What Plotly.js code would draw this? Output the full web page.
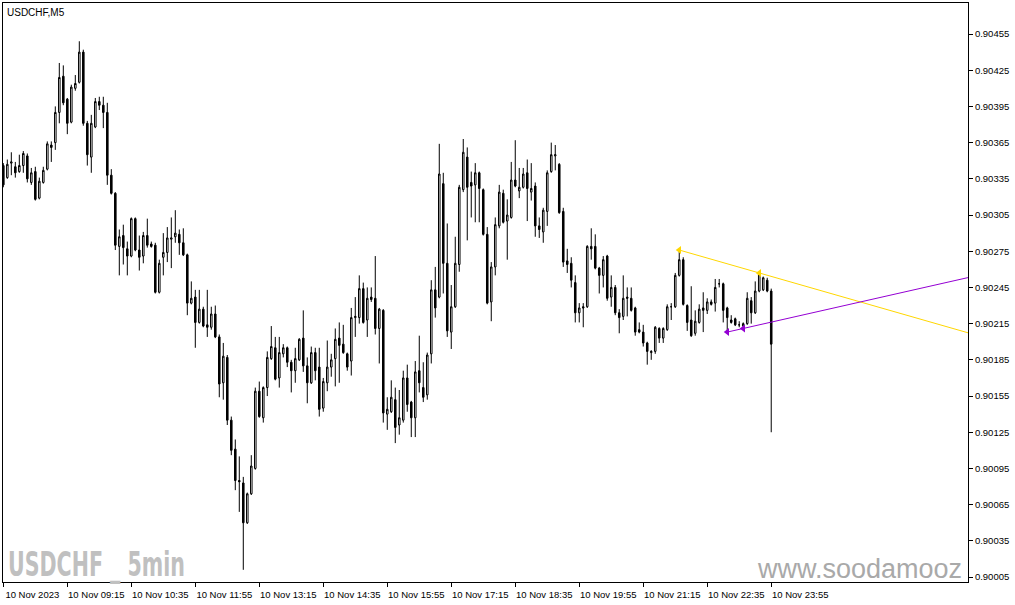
<!DOCTYPE html>
<html>
<head>
<meta charset="utf-8">
<script src="https://cdn.plot.ly/plotly-3.0.1.min.js"></script>
<style>html,body{margin:0;padding:0;background:#fff;}#chart{width:1015px;height:605px;}</style>
</head>
<body>
<div id="chart"></div>
<script>
// ---- data (USDCHF, M5, 10 Nov 2023 07:55 .. 23:55) ----
const open = [0.90346,0.90336,0.90348,0.90345,0.90341,0.90346,0.90354,0.90332,0.90341,0.90319,
0.90332,0.90343,0.90363,0.90365,0.90390,0.90420,0.90401,0.90382,0.90410,0.90415,
0.90440,0.90381,0.90353,0.90378,0.90399,0.90396,0.90390,0.90338,0.90323,0.90279,
0.90288,0.90277,0.90271,0.90302,0.90276,0.90271,0.90288,0.90281,0.90280,0.90241,
0.90270,0.90274,0.90285,0.90287,0.90289,0.90282,0.90272,0.90232,0.90237,0.90216,
0.90227,0.90214,0.90212,0.90223,0.90204,0.90166,0.90187,0.90135,0.90111,0.90085,
0.90083,0.90050,0.90074,0.90095,0.90159,0.90137,0.90162,0.90186,0.90195,0.90170,
0.90190,0.90195,0.90183,0.90176,0.90185,0.90203,0.90180,0.90166,0.90191,0.90179,
0.90145,0.90166,0.90179,0.90186,0.90203,0.90198,0.90190,0.90184,0.90220,0.90220,
0.90244,0.90218,0.90237,0.90236,0.90211,0.90226,0.90140,0.90142,0.90152,0.90131,
0.90135,0.90170,0.90150,0.90137,0.90176,0.90162,0.90156,0.90190,0.90243,0.90237,
0.90331,0.90265,0.90208,0.90229,0.90264,0.90326,0.90353,0.90332,0.90330,0.90340,
0.90326,0.90289,0.90233,0.90262,0.90296,0.90323,0.90300,0.90303,0.90334,0.90325,
0.90328,0.90340,0.90324,0.90329,0.90296,0.90291,0.90308,0.90341,0.90354,0.90347,
0.90308,0.90267,0.90265,0.90249,0.90224,0.90229,0.90229,0.90279,0.90279,0.90261,
0.90255,0.90271,0.90237,0.90245,0.90224,0.90221,0.90237,0.90236,0.90228,0.90210,
0.90208,0.90199,0.90191,0.90192,0.90211,0.90203,0.90210,0.90229,0.90229,0.90255,
0.90268,0.90230,0.90218,0.90207,0.90216,0.90228,0.90226,0.90233,0.90232,0.90248,
0.90248,0.90228,0.90218,0.90219,0.90214,0.90213,0.90215,0.90234,0.90224,0.90242,
0.90243,0.90251,0.90242];
const high = [0.90348,0.90351,0.90357,0.90349,0.90355,0.90358,0.90356,0.90344,0.90345,0.90336,
0.90345,0.90366,0.90366,0.90395,0.90431,0.90429,0.90402,0.90413,0.90421,0.90449,
0.90442,0.90383,0.90388,0.90402,0.90403,0.90403,0.90398,0.90343,0.90324,0.90293,
0.90297,0.90283,0.90303,0.90303,0.90288,0.90291,0.90302,0.90283,0.90282,0.90268,
0.90290,0.90295,0.90303,0.90309,0.90293,0.90294,0.90273,0.90250,0.90243,0.90243,
0.90229,0.90243,0.90229,0.90230,0.90206,0.90199,0.90189,0.90138,0.90119,0.90105,
0.90088,0.90075,0.90106,0.90162,0.90167,0.90163,0.90192,0.90213,0.90204,0.90204,
0.90198,0.90196,0.90185,0.90195,0.90203,0.90226,0.90187,0.90196,0.90195,0.90195,
0.90170,0.90201,0.90190,0.90211,0.90216,0.90214,0.90191,0.90228,0.90237,0.90255,
0.90249,0.90245,0.90245,0.90271,0.90228,0.90227,0.90154,0.90168,0.90162,0.90160,
0.90176,0.90181,0.90151,0.90184,0.90205,0.90183,0.90191,0.90251,0.90262,0.90364,
0.90340,0.90298,0.90247,0.90287,0.90330,0.90368,0.90361,0.90341,0.90348,0.90341,
0.90327,0.90295,0.90266,0.90303,0.90330,0.90326,0.90318,0.90349,0.90367,0.90344,
0.90344,0.90351,0.90348,0.90332,0.90303,0.90311,0.90342,0.90365,0.90363,0.90348,
0.90311,0.90277,0.90270,0.90255,0.90232,0.90232,0.90280,0.90294,0.90289,0.90262,
0.90271,0.90272,0.90255,0.90247,0.90227,0.90255,0.90245,0.90245,0.90229,0.90216,
0.90214,0.90200,0.90193,0.90213,0.90212,0.90212,0.90231,0.90232,0.90257,0.90276,
0.90270,0.90231,0.90246,0.90226,0.90231,0.90241,0.90236,0.90235,0.90252,0.90252,
0.90249,0.90229,0.90222,0.90220,0.90217,0.90216,0.90241,0.90237,0.90250,0.90257,
0.90254,0.90253,0.90244];
const low = [0.90328,0.90335,0.90338,0.90336,0.90340,0.90340,0.90332,0.90330,0.90317,0.90318,
0.90331,0.90342,0.90349,0.90359,0.90381,0.90396,0.90372,0.90381,0.90408,0.90414,
0.90379,0.90346,0.90340,0.90377,0.90392,0.90377,0.90330,0.90322,0.90276,0.90255,
0.90264,0.90255,0.90270,0.90275,0.90259,0.90265,0.90278,0.90278,0.90240,0.90240,
0.90255,0.90266,0.90261,0.90282,0.90272,0.90271,0.90222,0.90231,0.90195,0.90215,
0.90212,0.90204,0.90210,0.90203,0.90154,0.90152,0.90131,0.90106,0.90077,0.90059,
0.90011,0.90049,0.90073,0.90094,0.90137,0.90133,0.90155,0.90185,0.90168,0.90162,
0.90187,0.90179,0.90158,0.90166,0.90184,0.90175,0.90149,0.90165,0.90168,0.90138,
0.90142,0.90159,0.90171,0.90163,0.90166,0.90190,0.90176,0.90172,0.90204,0.90215,
0.90215,0.90204,0.90233,0.90206,0.90182,0.90133,0.90127,0.90141,0.90116,0.90123,
0.90133,0.90142,0.90121,0.90121,0.90158,0.90150,0.90152,0.90182,0.90220,0.90236,
0.90240,0.90204,0.90194,0.90228,0.90258,0.90324,0.90284,0.90303,0.90299,0.90299,
0.90288,0.90231,0.90217,0.90255,0.90294,0.90298,0.90268,0.90302,0.90328,0.90319,
0.90327,0.90300,0.90317,0.90287,0.90286,0.90282,0.90296,0.90340,0.90342,0.90306,
0.90262,0.90257,0.90245,0.90216,0.90216,0.90212,0.90228,0.90268,0.90260,0.90240,
0.90245,0.90234,0.90229,0.90222,0.90207,0.90218,0.90221,0.90225,0.90205,0.90207,
0.90196,0.90181,0.90185,0.90190,0.90199,0.90199,0.90209,0.90218,0.90228,0.90254,
0.90230,0.90209,0.90204,0.90205,0.90215,0.90208,0.90223,0.90230,0.90225,0.90245,
0.90216,0.90209,0.90215,0.90213,0.90212,0.90212,0.90214,0.90215,0.90223,0.90241,
0.90242,0.90241,0.90125];
const close = [0.90330,0.90347,0.90349,0.90340,0.90346,0.90356,0.90335,0.90340,0.90318,0.90333,
0.90342,0.90364,0.90361,0.90390,0.90419,0.90398,0.90381,0.90411,0.90414,0.90440,
0.90381,0.90355,0.90381,0.90399,0.90396,0.90390,0.90338,0.90323,0.90280,0.90287,
0.90278,0.90271,0.90302,0.90276,0.90270,0.90288,0.90280,0.90279,0.90241,0.90265,
0.90274,0.90286,0.90286,0.90290,0.90282,0.90272,0.90232,0.90236,0.90216,0.90227,
0.90213,0.90212,0.90223,0.90204,0.90165,0.90188,0.90135,0.90110,0.90085,0.90084,
0.90050,0.90074,0.90097,0.90159,0.90138,0.90162,0.90187,0.90196,0.90169,0.90191,
0.90195,0.90183,0.90176,0.90186,0.90202,0.90180,0.90166,0.90191,0.90176,0.90144,
0.90167,0.90179,0.90185,0.90202,0.90197,0.90191,0.90179,0.90220,0.90221,0.90244,
0.90216,0.90236,0.90235,0.90211,0.90227,0.90141,0.90144,0.90154,0.90129,0.90137,
0.90170,0.90148,0.90137,0.90175,0.90166,0.90154,0.90189,0.90243,0.90228,0.90339,
0.90265,0.90209,0.90229,0.90265,0.90328,0.90357,0.90328,0.90329,0.90340,0.90327,
0.90289,0.90232,0.90262,0.90297,0.90324,0.90299,0.90305,0.90334,0.90329,0.90328,
0.90339,0.90327,0.90327,0.90296,0.90293,0.90309,0.90340,0.90355,0.90355,0.90307,
0.90266,0.90264,0.90251,0.90224,0.90228,0.90228,0.90279,0.90277,0.90261,0.90255,
0.90268,0.90236,0.90245,0.90224,0.90220,0.90236,0.90236,0.90226,0.90208,0.90208,
0.90199,0.90192,0.90192,0.90212,0.90203,0.90211,0.90229,0.90229,0.90255,0.90268,
0.90231,0.90216,0.90205,0.90217,0.90227,0.90226,0.90233,0.90231,0.90245,0.90248,
0.90226,0.90220,0.90216,0.90214,0.90214,0.90215,0.90236,0.90224,0.90242,0.90256,
0.90253,0.90242,0.90198];

// x-axis labels (bar index where each label sits)
const tickBars = [0,16,32,48,64,80,96,112,128,144,160,176,192];
const tickLabels = ['10 Nov 2023','10 Nov 09:15','10 Nov 10:35','10 Nov 11:55','10 Nov 13:15',
  '10 Nov 14:35','10 Nov 15:55','10 Nov 17:15','10 Nov 18:35','10 Nov 19:55','10 Nov 21:15',
  '10 Nov 22:35','10 Nov 23:55'];
// y-axis price ticks
const priceTicks = [0.90005,0.90035,0.90065,0.90095,0.90125,0.90155,0.90185,0.90215,
  0.90245,0.90275,0.90305,0.90335,0.90365,0.90395,0.90425,0.90455];

// trend lines (anchor bars and prices)
const yellowBars = [169,189];
const yellowPrices = [0.90276,0.90257];
const purpleBars = [181,185];
const purplePrices = [0.90208,0.90211];

// ---- drawing ----
const xRange = [-0.08, 241.2];
const yRange = [0.900009, 0.904807];
const barIdx = close.map((_, i) => i);

function ray(bx, py) {
  const slope = (py[1]-py[0])/(bx[1]-bx[0]);
  const xEnd = xRange[1] + 1;
  return {x:[bx[0], xEnd], y:[py[0], py[0] + slope*(xEnd-bx[0])]};
}
const yr = ray(yellowBars, yellowPrices);
const pr = ray(purpleBars, purplePrices);
const YEL = '#FFD700', PUR = '#9400D3';

const traces = [
  {type:'candlestick', x:barIdx, open:open, high:high, low:low, close:close,
   increasing:{line:{color:'#000',width:1}, fillcolor:'#ffffff'},
   decreasing:{line:{color:'#000',width:1}, fillcolor:'#000000'},
   whiskerwidth:0, hoverinfo:'skip', showlegend:false},
  {type:'scatter', mode:'lines', x:yr.x, y:yr.y, line:{color:YEL,width:1}, hoverinfo:'skip', showlegend:false},
  {type:'scatter', mode:'lines', x:pr.x, y:pr.y, line:{color:PUR,width:1}, hoverinfo:'skip', showlegend:false},
  {type:'scatter', mode:'markers', x:yellowBars, y:yellowPrices,
   marker:{symbol:'triangle-left', size:7, color:YEL}, hoverinfo:'skip', showlegend:false},
  {type:'scatter', mode:'markers', x:purpleBars, y:purplePrices,
   marker:{symbol:'triangle-left', size:7, color:PUR}, hoverinfo:'skip', showlegend:false}
];

const tickFont = {family:'Liberation Sans, Arial, sans-serif', size:9.5, color:'#000'};
const layout = {
  width:1015, height:605,
  margin:{l:3, r:47, t:3, b:23, pad:0},
  paper_bgcolor:'#ffffff', plot_bgcolor:'#ffffff',
  showlegend:false, hovermode:false, boxgap:0.45,
  xaxis:{range:xRange, showgrid:false, zeroline:false, showline:true, mirror:true,
    linecolor:'#000', linewidth:1, ticks:'outside', ticklen:4, tickcolor:'#000',
    tickmode:'array', tickvals:tickBars, ticktext:tickLabels, tickfont:tickFont,
    ticklabelshift:29, rangeslider:{visible:false}, fixedrange:true},
  yaxis:{range:yRange, side:'right', showgrid:false, zeroline:false, showline:true, mirror:true,
    linecolor:'#000', linewidth:1, ticks:'outside', ticklen:4, tickcolor:'#000',
    tickmode:'array', tickvals:priceTicks, ticktext:priceTicks.map(v => v.toFixed(5)),
    tickfont:tickFont, fixedrange:true},
  annotations:[
    {xref:'paper', yref:'paper', x:0.002, y:0.997, xanchor:'left', yanchor:'top', showarrow:false,
     text:'USDCHF,M5', font:{family:'Liberation Sans, Arial, sans-serif', size:10, color:'#000'}},
    {xref:'paper', yref:'paper', x:0.004, y:0.0, xanchor:'left', yanchor:'bottom', showarrow:false, yshift:-4,
     text:'<b>USDCHF _ 5min</b>', font:{family:'DejaVu Sans Condensed, DejaVu Sans, sans-serif', size:34, color:'#C0C0C0'}},
    {xref:'paper', yref:'paper', x:0.996, y:0.0, xanchor:'right', yanchor:'bottom', showarrow:false, yshift:-4,
     text:'www.soodamooz', font:{family:'Liberation Sans, Arial, sans-serif', size:27, color:'#A9A9A9'}}
  ]
};
Plotly.newPlot('chart', traces, layout, {staticPlot:true, displayModeBar:false}).then(() => {
  // squeeze the heavy watermark into the narrow width it has in the original
  const t = document.querySelectorAll('.annotation-text')[1];
  if (!t) return;
  const r0 = t.getBoundingClientRect();
  const bb = t.getBBox();
  t.setAttribute('text-anchor', 'start');
  t.setAttribute('x', bb.x + (8 - r0.left));
  t.setAttribute('lengthAdjust', 'spacingAndGlyphs');
  t.setAttribute('textLength', 177);
});
</script>
</body>
</html>
